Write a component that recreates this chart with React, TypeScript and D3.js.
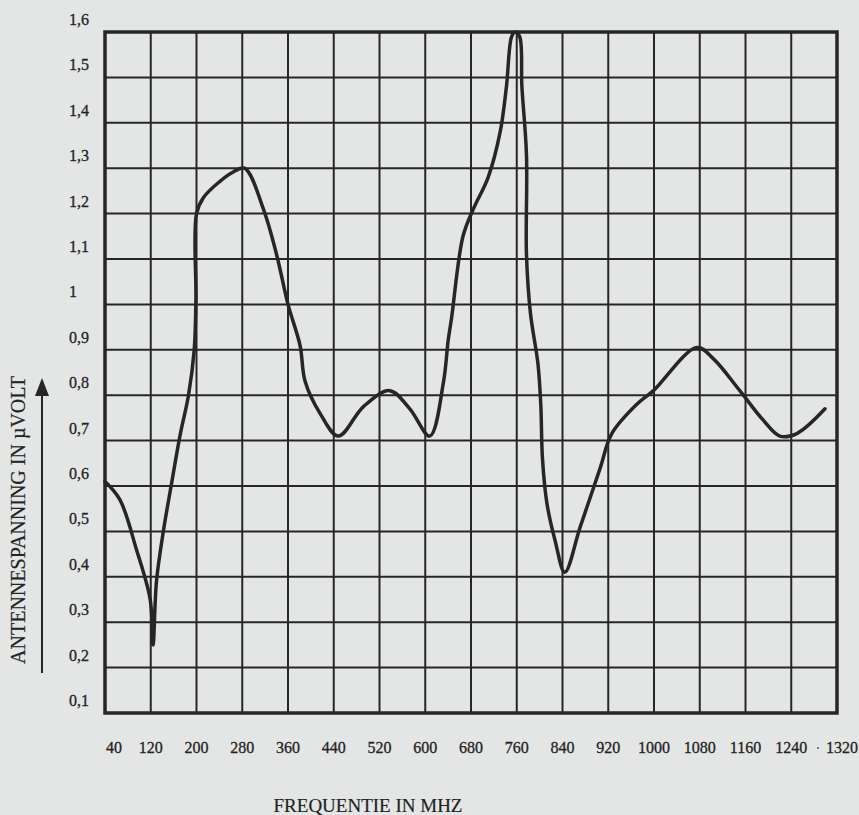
import React, { useEffect, useRef } from "react";
import * as d3 from "d3";

// frequentie (MHz) en antennespanning (µV)
const freq = [40, 66, 95, 119, 124, 130, 142, 157, 171, 186, 196, 199, 200, 212, 240, 262, 284, 317, 340, 360, 381, 390, 416, 448, 492, 538, 573, 608, 632, 640, 646, 666, 684, 710, 731, 742, 751, 757, 765, 769, 777, 777, 784, 797, 802, 805, 813, 827, 844, 871, 906, 926, 970, 999, 1075, 1104, 1150, 1191, 1220, 1249, 1299];
const volt = [0.61, 0.57, 0.46, 0.35, 0.25, 0.39, 0.5, 0.61, 0.71, 0.8, 0.9, 1.01, 1.2, 1.235, 1.27, 1.29, 1.3, 1.21, 1.11, 1.0, 0.91, 0.83, 0.76, 0.71, 0.775, 0.81, 0.77, 0.71, 0.83, 0.92, 0.97, 1.15, 1.21, 1.28, 1.38, 1.48, 1.59, 1.6, 1.59, 1.48, 1.33, 1.11, 0.98, 0.87, 0.78, 0.66, 0.56, 0.48, 0.41, 0.51, 0.64, 0.715, 0.78, 0.81, 0.905, 0.88, 0.81, 0.745, 0.71, 0.715, 0.77];

const xTicks = [40, 120, 200, 280, 360, 440, 520, 600, 680, 760, 840, 920, 1000, 1080, 1160, 1240, 1320];
const yTicks = [0.1, 0.2, 0.3, 0.4, 0.5, 0.6, 0.7, 0.8, 0.9, 1.0, 1.1, 1.2, 1.3, 1.4, 1.5, 1.6];
const yLabels = ["0,1", "0,2", "0,3", "0,4", "0,5", "0,6", "0,7", "0,8", "0,9", "1", "1,1", "1,2", "1,3", "1,4", "1,5", "1,6"];

const W = 859, H = 815;
const FONT = "'Liberation Serif', 'Times New Roman', serif";
const INK = "#262626";
const TXT = "#232323";

export default function App() {
    const ref = useRef<SVGSVGElement>(null);

    useEffect(() => {
        const svg = d3.select(ref.current);
        svg.selectAll("*").remove();

        const x = d3.scaleLinear().domain([40, 1320]).range([105, 837]);
        const y = d3.scaleLinear().domain([0.1, 1.6]).range([713, 32]);

        svg.append("rect").attr("width", W).attr("height", H).attr("fill", "#e4e6e5");

        // raster
        const grid = svg.append("g").attr("stroke", INK).attr("stroke-width", 2);
        grid.selectAll(".v").data(xTicks).enter().append("line")
            .attr("x1", d => x(d)).attr("x2", d => x(d))
            .attr("y1", y(1.6)).attr("y2", y(0.1));
        grid.selectAll(".h").data(yTicks).enter().append("line")
            .attr("y1", d => y(d)).attr("y2", d => y(d))
            .attr("x1", x(40)).attr("x2", x(1320));
        svg.append("rect")
            .attr("x", x(40)).attr("y", y(1.6))
            .attr("width", x(1320) - x(40)).attr("height", y(0.1) - y(1.6))
            .attr("fill", "none").attr("stroke", INK).attr("stroke-width", 3.5);

        // y labels
        svg.append("g").selectAll("text").data(yTicks).enter().append("text")
            .attr("x", 69).attr("y", d => y(d) - 7)
            .attr("font-family", FONT).attr("font-size", 16).attr("fill", TXT)
            .attr("stroke", TXT).attr("stroke-width", 0.3)
            .text((d, i) => yLabels[i]);

        // x labels
        svg.append("g").selectAll("text").data(xTicks).enter().append("text")
            .attr("x", (d, i) => x(d) + (i === 0 ? 9 : i === xTicks.length - 1 ? 5 : 0))
            .attr("y", 753)
            .attr("text-anchor", "middle")
            .attr("font-family", FONT).attr("font-size", 16).attr("fill", TXT)
            .attr("stroke", TXT).attr("stroke-width", 0.3)
            .text(d => String(d));
        svg.append("circle").attr("cx", 818).attr("cy", 748).attr("r", 1).attr("fill", "#555");

        // curve
        const pts: [number, number][] = freq.map((f, i) => [f, volt[i]]);
        const line = d3.line<[number, number]>().x(d => x(d[0])).y(d => y(d[1])).curve(d3.curveCatmullRom.alpha(0.5));
        svg.append("path").datum(pts)
            .attr("d", line)
            .attr("fill", "none").attr("stroke", INK).attr("stroke-width", 3.5)
            .attr("stroke-linejoin", "round").attr("stroke-linecap", "round");

        // titels
        svg.append("text")
            .attr("x", 368).attr("y", 812).attr("text-anchor", "middle")
            .attr("font-family", FONT).attr("font-size", 19).attr("fill", TXT)
            .attr("stroke", TXT).attr("stroke-width", 0.2)
            .text("FREQUENTIE IN MHZ");
        svg.append("text")
            .attr("transform", "translate(25,520) rotate(-90)")
            .attr("text-anchor", "middle")
            .attr("font-family", FONT).attr("font-size", 20).attr("fill", TXT)
            .attr("stroke", TXT).attr("stroke-width", 0.2)
            .text("ANTENNESPANNING IN µVOLT");

        // pijl
        svg.append("line").attr("x1", 42).attr("x2", 42).attr("y1", 673).attr("y2", 392)
            .attr("stroke", INK).attr("stroke-width", 2);
        svg.append("path").attr("d", "M42,378 L35,396 L49,396 Z").attr("fill", INK);
    }, []);

    return (
        <div>
            <style>{`body{margin:0}`}</style>
            <svg ref={ref} width={W} height={H} style={{ display: "block" }} />
        </div>
    );
}
